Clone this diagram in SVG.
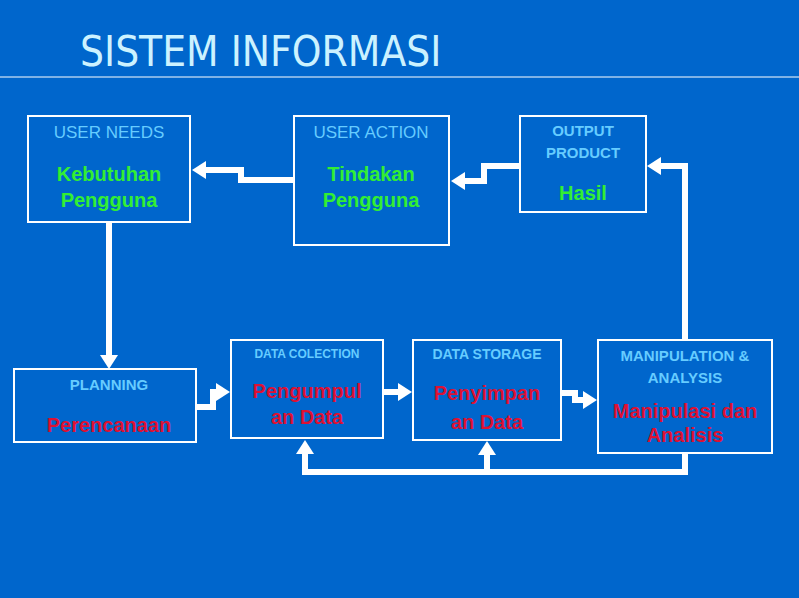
<svg xmlns="http://www.w3.org/2000/svg" width="799" height="598" viewBox="0 0 799 598">
<style>
.box{fill:none;stroke:#fff;stroke-width:2}
.lbl{font-family:"Liberation Sans",Arial,sans-serif;fill:#66ccff;text-anchor:middle}
.g{font-family:"Liberation Sans",Arial,sans-serif;font-weight:bold;fill:#33ee33;text-anchor:middle;font-size:20px}
.r{font-family:"Liberation Sans",Arial,sans-serif;font-weight:bold;fill:#dd1133;text-anchor:middle;font-size:20px}
.c{fill:none;stroke:#fff;stroke-width:6}
.a{fill:#fff}
</style>
<rect width="799" height="598" fill="#0066cc"/>
<text x="80" y="66" font-family="DejaVu Sans Condensed,Liberation Sans,sans-serif" font-size="42" fill="#ccf2ff" transform="scale(1,1)">SISTEM INFORMASI</text>
<line x1="0" y1="77" x2="799" y2="77" stroke="#fff" stroke-width="1"/>
<g id="userneeds"><rect class="box" x="28" y="116" width="162" height="106"/><text class="lbl" x="109" y="138" font-size="17">USER NEEDS</text><text class="g" x="109" y="181">Kebutuhan</text><text class="g" x="109" y="207">Pengguna</text></g>
<g id="useraction"><rect class="box" x="294" y="116" width="155" height="129"/><text class="lbl" x="371" y="138" font-size="17">USER ACTION</text><text class="g" x="371" y="181">Tindakan</text><text class="g" x="371" y="207">Pengguna</text></g>
<g id="output"><rect class="box" x="520" y="116" width="126" height="96"/><text class="lbl" x="583" y="136" font-size="15" font-weight="bold">OUTPUT</text><text class="lbl" x="583" y="158" font-size="15" font-weight="bold">PRODUCT</text><text class="g" x="583" y="200">Hasil</text></g>
<g id="planning"><rect class="box" x="14" y="369" width="182" height="73"/><text class="lbl" x="109" y="390" font-size="15" font-weight="bold">PLANNING</text><text class="r" x="109" y="432">Perencanaan</text></g>
<g id="colection"><rect class="box" x="231" y="340" width="152" height="98"/><text class="lbl" x="307" y="358" font-size="12" font-weight="bold">DATA COLECTION</text><text class="r" x="307" y="398">Pengumpul</text><text class="r" x="307" y="424">an Data</text></g>
<g id="storage"><rect class="box" x="413" y="340" width="148" height="100"/><text class="lbl" x="487" y="359" font-size="14" font-weight="bold">DATA STORAGE</text><text class="r" x="487" y="400">Penyimpan</text><text class="r" x="487" y="429">an Data</text></g>
<g id="manipulation"><rect class="box" x="598" y="340" width="174" height="113"/><text class="lbl" x="685" y="361" font-size="15" font-weight="bold">MANIPULATION &amp;</text><text class="lbl" x="685" y="383" font-size="15" font-weight="bold">ANALYSIS</text><text class="r" x="685" y="418" font-size="16">Manipulasi dan</text><text class="r" x="685" y="442" font-size="16">Analisis</text></g>
<g id="connectors">
<polyline class="c" points="294,180 241,180 241,170 205,170"/><polygon class="a" points="192,170 206,161 206,179"/>
<polyline class="c" points="520,166 484,166 484,181 464,181"/><polygon class="a" points="451,181 465,172 465,190"/>
<polyline class="c" points="685,340 685,166 660,166"/><polygon class="a" points="647,166 661,157 661,175"/>
<polyline class="c" points="109,222 109,356"/><polygon class="a" points="109,369 100,355 118,355"/>
<polyline class="c" points="196,407 213,407 213,392 218,392"/><polygon class="a" points="230,392 216,383 216,401"/>
<polyline class="c" points="384,392 400,392"/><polygon class="a" points="412,392 398,383 398,401"/>
<polyline class="c" points="562,393 575,393 575,400 585,400"/><polygon class="a" points="597,400 583,391 583,409"/>
<polyline class="c" points="685,453 685,472 305,472 305,453"/><polygon class="a" points="305,440 296,454 314,454"/>
<polyline class="c" points="487,472 487,454"/><polygon class="a" points="487,441 478,455 496,455"/>
</g>
</svg>
